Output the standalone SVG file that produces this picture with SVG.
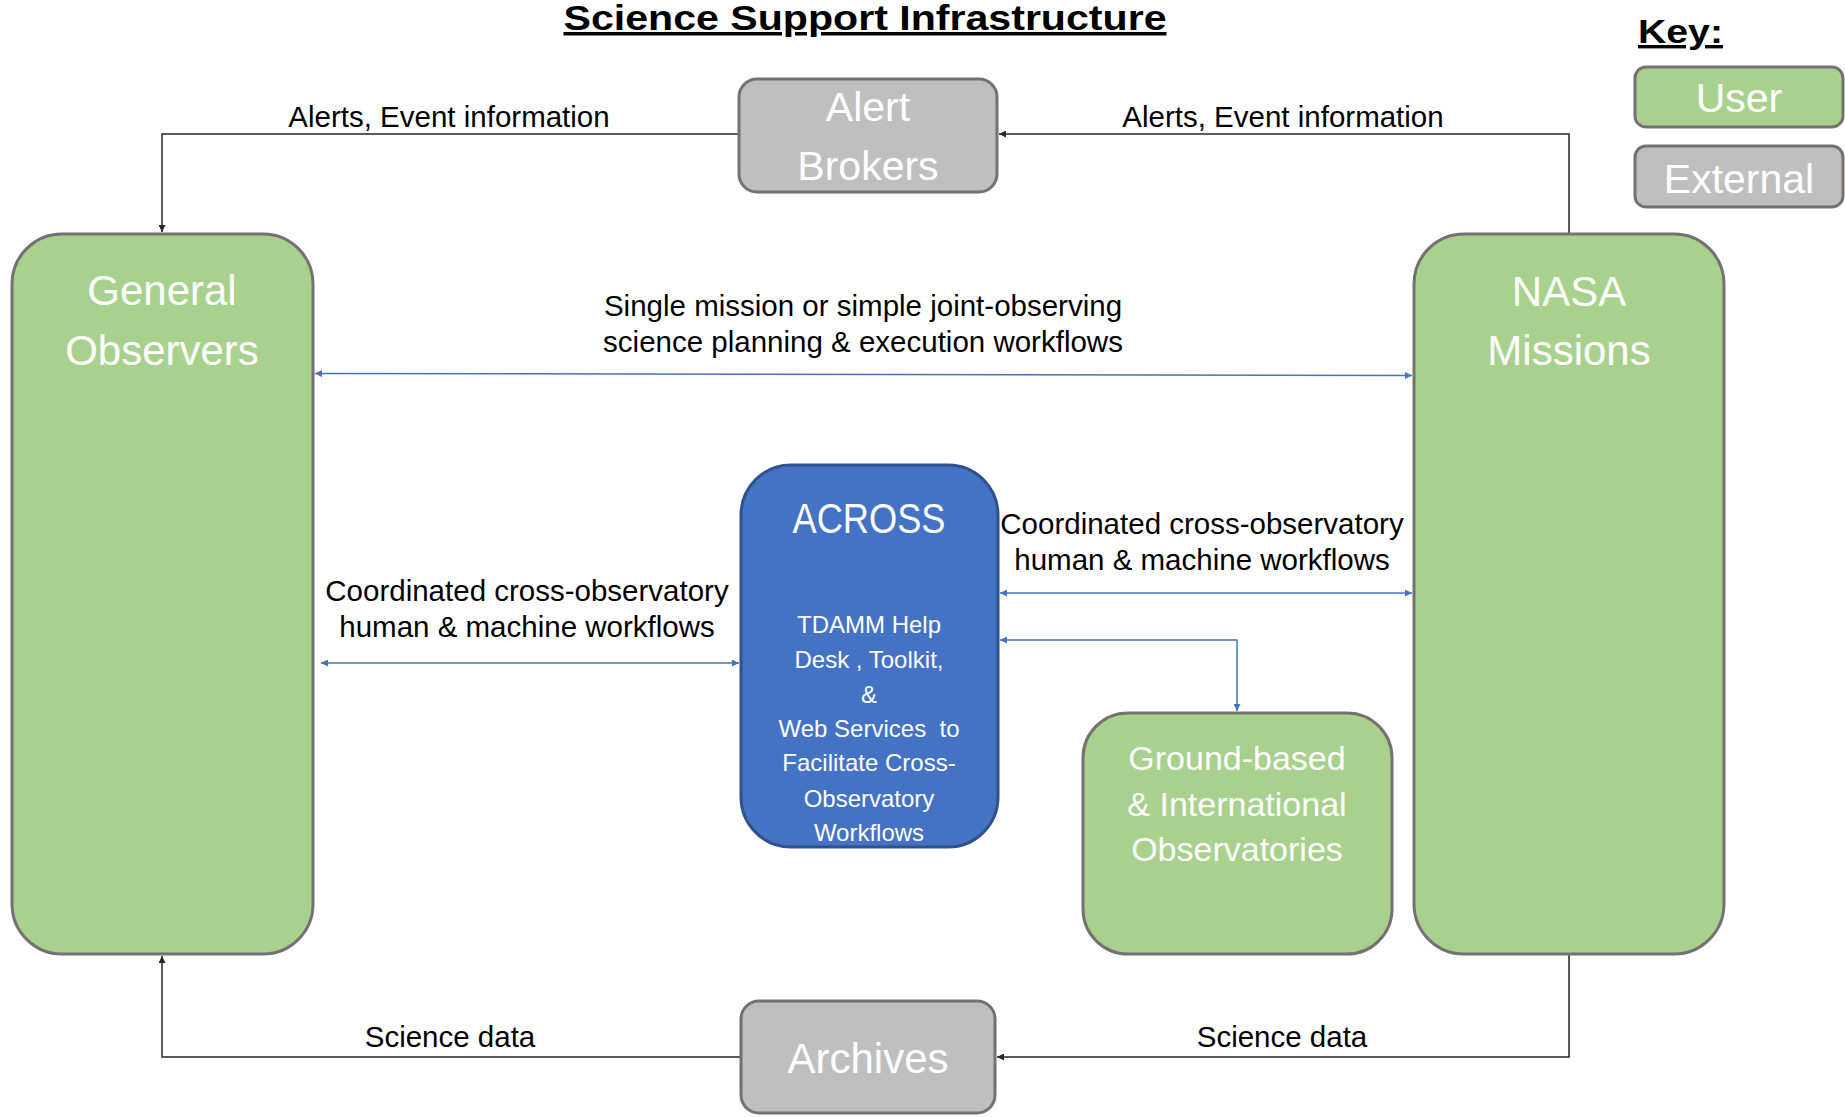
<svg xmlns="http://www.w3.org/2000/svg" width="1845" height="1117" viewBox="0 0 1845 1117">
  <style>
    .user { fill: #A9D18E; stroke: #767171; stroke-width: 3; }
    .ext { fill: #BFBFBF; stroke: #767171; stroke-width: 3; }
    .core { fill: #4472C4; stroke: #2F528F; stroke-width: 3; }
    .nodetext { font-family: "Liberation Sans", Arial, sans-serif; fill: #FFFFFF; text-anchor: middle; }
    .label { font-family: "Liberation Sans", Arial, sans-serif; fill: #000000; font-size: 29.5px; text-anchor: middle; }
    .heading { font-family: "Liberation Sans", Arial, sans-serif; font-weight: bold; fill: #000000; text-decoration: underline; }
    .flow { fill: none; stroke: #262626; stroke-width: 1.5; }
    .link { fill: none; stroke: #4472C4; stroke-width: 1.5; }
  </style>
  <defs>
    <marker id="arrowDark" viewBox="0 0 8 8" refX="8" refY="4" markerWidth="7" markerHeight="7" markerUnits="userSpaceOnUse" orient="auto-start-reverse">
      <path d="M0,0 L8,4 L0,8 z" fill="#262626"/>
    </marker>
    <marker id="arrowBlue" viewBox="0 0 8 8" refX="8" refY="4" markerWidth="7" markerHeight="7" markerUnits="userSpaceOnUse" orient="auto-start-reverse">
      <path d="M0,0 L8,4 L0,8 z" fill="#4472C4"/>
    </marker>
  </defs>

  <rect width="1845" height="1117" fill="#FFFFFF"/>

  <!-- Title -->
  <text class="heading" x="865" y="30" font-size="35" text-anchor="middle" textLength="603" lengthAdjust="spacingAndGlyphs">Science Support Infrastructure</text>

  <!-- Legend -->
  <g id="legend">
    <text class="heading" x="1638" y="43" font-size="34" textLength="85" lengthAdjust="spacingAndGlyphs">Key:</text>
    <rect class="user" x="1635" y="67" width="208" height="60" rx="11"/>
    <text class="nodetext" x="1739" y="112" font-size="41">User</text>
    <rect class="ext" x="1635" y="146" width="208" height="61" rx="11"/>
    <text class="nodetext" x="1739" y="193" font-size="41">External</text>
  </g>

  <!-- Connectors -->
  <g id="connectors">
    <path class="flow" d="M739,134 H162 V232" marker-end="url(#arrowDark)"/>
    <path class="flow" d="M1569,233 V134 H999" marker-end="url(#arrowDark)"/>
    <path class="flow" d="M741,1057 H162 V956" marker-end="url(#arrowDark)"/>
    <path class="flow" d="M1569,955 V1057 H997" marker-end="url(#arrowDark)"/>
    <path class="link" d="M315,373.5 L1412,375.5" marker-start="url(#arrowBlue)" marker-end="url(#arrowBlue)"/>
    <path class="link" d="M321,663 H739" marker-start="url(#arrowBlue)" marker-end="url(#arrowBlue)"/>
    <path class="link" d="M1000,593 H1412" marker-start="url(#arrowBlue)" marker-end="url(#arrowBlue)"/>
    <path class="link" d="M1000,640 H1237 V711" marker-start="url(#arrowBlue)" marker-end="url(#arrowBlue)"/>
  </g>

  <!-- Connector labels -->
  <g id="labels">
    <text class="label" x="449" y="127">Alerts, Event information</text>
    <text class="label" x="1283" y="127">Alerts, Event information</text>
    <text class="label" x="863" y="316">Single mission or simple joint-observing</text>
    <text class="label" x="863" y="352">science planning &amp; execution workflows</text>
    <text class="label" x="527" y="601">Coordinated cross-observatory</text>
    <text class="label" x="527" y="637">human &amp; machine workflows</text>
    <text class="label" x="1202" y="534">Coordinated cross-observatory</text>
    <text class="label" x="1202" y="570">human &amp; machine workflows</text>
    <text class="label" x="450" y="1047">Science data</text>
    <text class="label" x="1282" y="1047">Science data</text>
  </g>

  <!-- Nodes -->
  <g id="alert-brokers">
    <rect class="ext" x="739" y="79" width="258" height="113" rx="18"/>
    <text class="nodetext" x="868" y="121" font-size="41">Alert</text>
    <text class="nodetext" x="868" y="180" font-size="41">Brokers</text>
  </g>

  <g id="general-observers">
    <rect class="user" x="12" y="234" width="301" height="720" rx="50"/>
    <text class="nodetext" x="162" y="305" font-size="42">General</text>
    <text class="nodetext" x="162" y="365" font-size="42">Observers</text>
  </g>

  <g id="nasa-missions">
    <rect class="user" x="1414" y="234" width="310" height="720" rx="50"/>
    <text class="nodetext" x="1569" y="306" font-size="42">NASA</text>
    <text class="nodetext" x="1569" y="365" font-size="42">Missions</text>
  </g>

  <g id="across">
    <rect class="core" x="741" y="465" width="257" height="382" rx="50"/>
    <text class="nodetext" x="869" y="533" font-size="42" textLength="153" lengthAdjust="spacingAndGlyphs">ACROSS</text>
    <text class="nodetext" x="869" y="633" font-size="24">TDAMM Help</text>
    <text class="nodetext" x="869" y="668" font-size="24" xml:space="preserve">Desk , Toolkit,</text>
    <text class="nodetext" x="869" y="703" font-size="24">&amp;</text>
    <text class="nodetext" x="869" y="737" font-size="24" xml:space="preserve">Web Services  to</text>
    <text class="nodetext" x="869" y="771" font-size="24">Facilitate Cross-</text>
    <text class="nodetext" x="869" y="807" font-size="24">Observatory</text>
    <text class="nodetext" x="869" y="841" font-size="24">Workflows</text>
  </g>

  <g id="ground-observatories">
    <rect class="user" x="1083" y="713" width="309" height="241" rx="45"/>
    <text class="nodetext" x="1237" y="770" font-size="34">Ground-based</text>
    <text class="nodetext" x="1237" y="816" font-size="34">&amp; International</text>
    <text class="nodetext" x="1237" y="861" font-size="34">Observatories</text>
  </g>

  <g id="archives">
    <rect class="ext" x="741" y="1001" width="254" height="112" rx="18"/>
    <text class="nodetext" x="868" y="1073" font-size="42">Archives</text>
  </g>
</svg>
